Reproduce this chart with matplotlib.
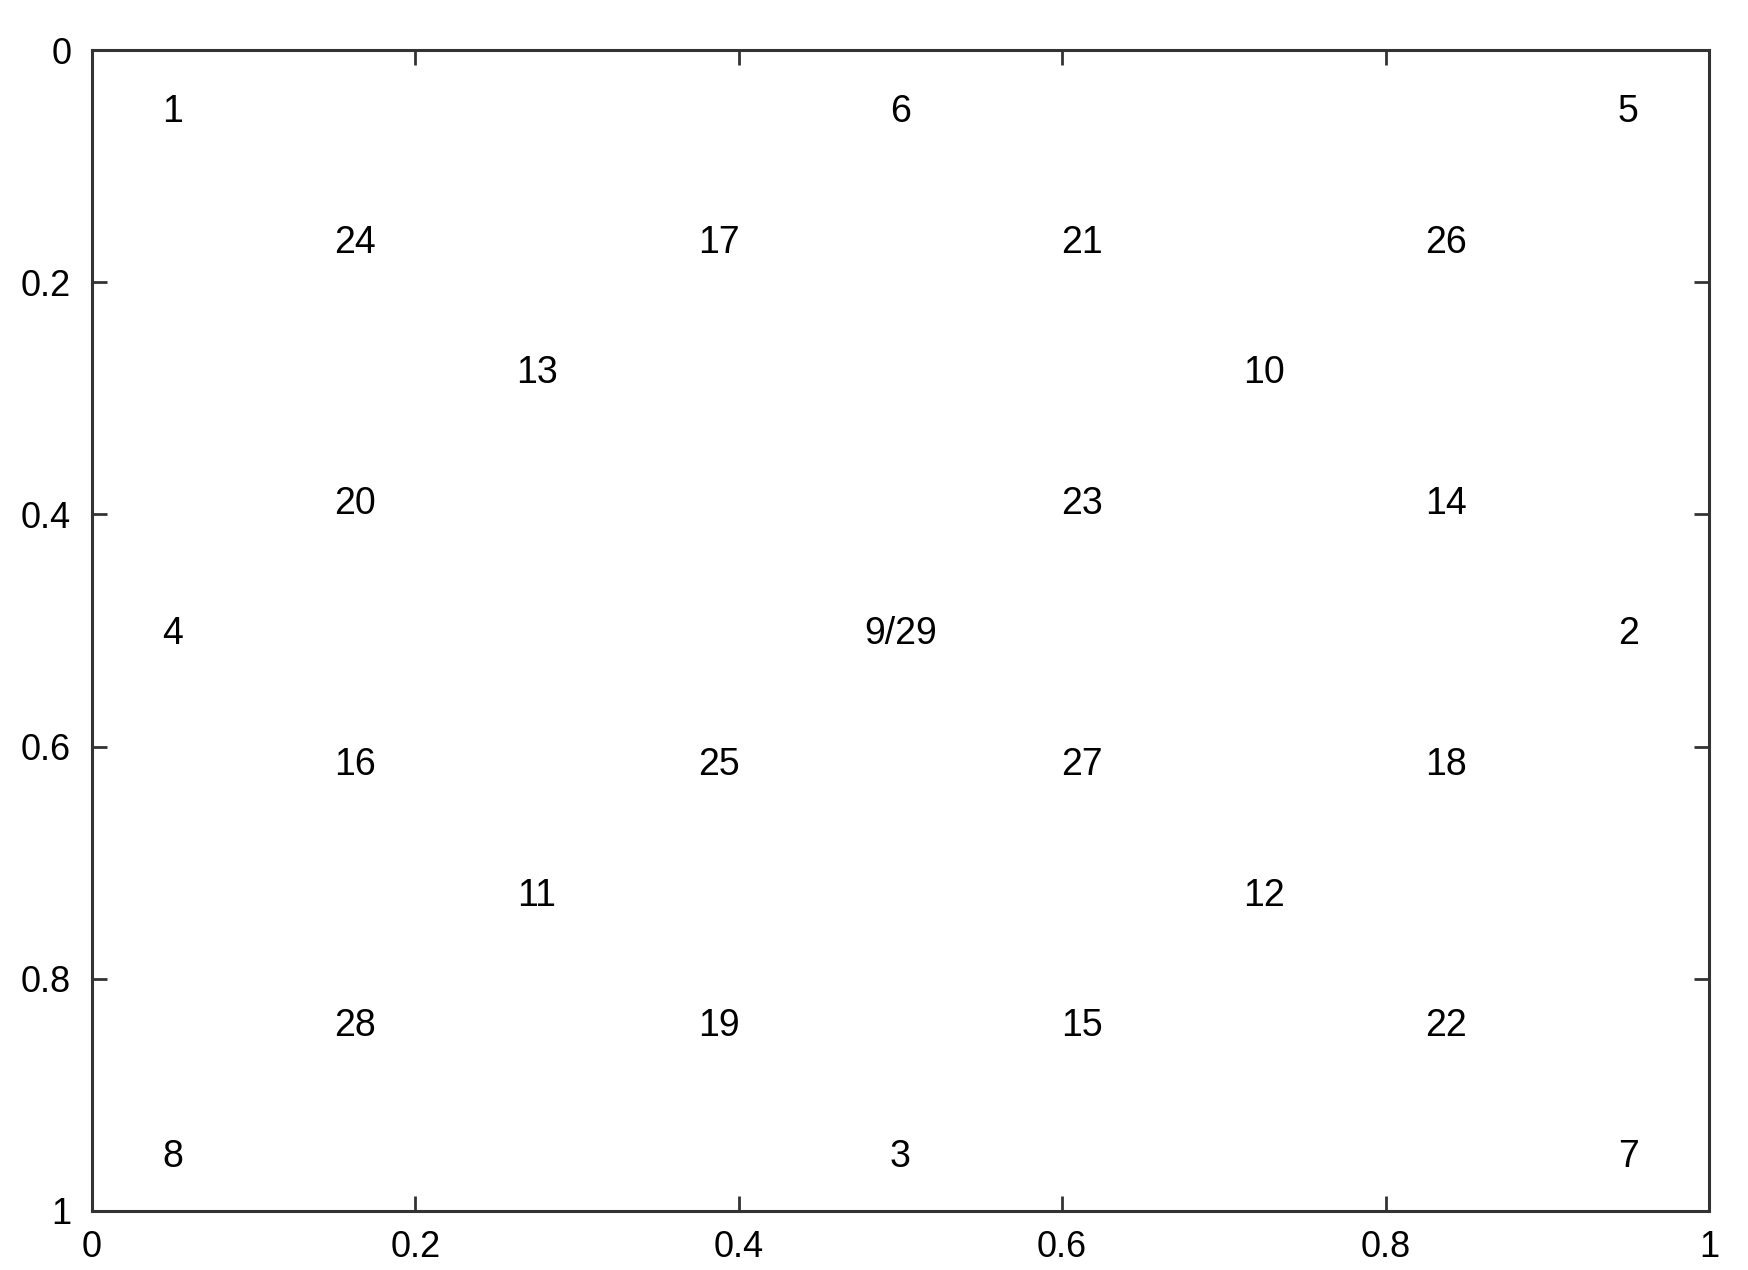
import matplotlib
matplotlib.use("Agg")
import matplotlib.pyplot as plt

# node labels and their (x, y) positions
labels = ["1", "6", "5",
          "24", "17", "21", "26",
          "13", "10",
          "20", "23", "14",
          "4", "9/29", "2",
          "16", "25", "27", "18",
          "11", "12",
          "28", "19", "15", "22",
          "8", "3", "7"]
xs = [0.05, 0.5, 0.95,
      0.1625, 0.3875, 0.6125, 0.8375,
      0.275, 0.725,
      0.1625, 0.6125, 0.8375,
      0.05, 0.5, 0.95,
      0.1625, 0.3875, 0.6125, 0.8375,
      0.275, 0.725,
      0.1625, 0.3875, 0.6125, 0.8375,
      0.05, 0.5, 0.95]
ys = [0.05, 0.05, 0.05,
      0.1625, 0.1625, 0.1625, 0.1625,
      0.275, 0.275,
      0.3875, 0.3875, 0.3875,
      0.5, 0.5, 0.5,
      0.6125, 0.6125, 0.6125, 0.6125,
      0.725, 0.725,
      0.8375, 0.8375, 0.8375, 0.8375,
      0.95, 0.95, 0.95]

tick_vals = [0, 0.2, 0.4, 0.6, 0.8, 1]
tick_labels = ["0", "0.2", "0.4", "0.6", "0.8", "1"]

plt.rcParams["font.family"] = ["Liberation Sans", "DejaVu Sans"]

fig = plt.figure(figsize=(17.49, 12.70), dpi=100)
ax = fig.add_axes([0.0526, 0.0465, 0.9245, 0.9141])

for lab, x, y in zip(labels, xs, ys):
    ax.text(x, y, lab, ha="center", va="center_baseline", fontsize=27, color="black")

ax.set_xlim(0, 1)
ax.set_ylim(1, 0)
ax.set_xticks(tick_vals)
ax.set_xticklabels(tick_labels)
ax.set_yticks(tick_vals)
ax.set_yticklabels(tick_labels)

for side in ax.spines.values():
    side.set_linewidth(2.2)
    side.set_color("#333333")

ax.tick_params(axis="both", direction="in", length=11, width=2.0, color="#333333",
               labelsize=26, top=True, right=True)
ax.tick_params(axis="x", pad=14)
ax.tick_params(axis="y", pad=15)

fig.savefig("out.png", dpi=100)
